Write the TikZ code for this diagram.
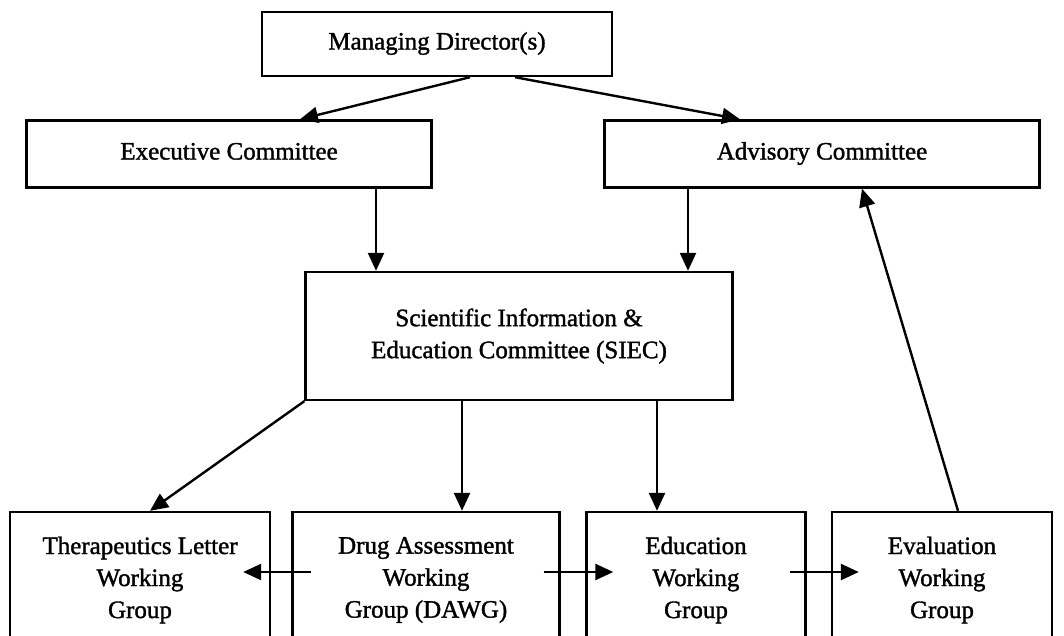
\documentclass[tikz,border=0pt]{standalone}
\usepackage{fontspec}
\setmainfont{Liberation Serif}[FakeBold=1.4]
\usetikzlibrary{arrows.meta,calc}
\begin{document}
\begin{tikzpicture}[x=1pt,y=-1pt,
  box/.style={draw,line width=2.4pt,inner sep=0pt,align=center,font=\fontsize{25}{32}\selectfont},
  oneline/.style={text height=17pt,text depth=6pt},
  arr/.style={line width=2.4pt,-{Triangle[length=18pt,width=16pt]}}]
\useasboundingbox (0,0) rectangle (1064,635);
\clip (0,0) rectangle (1064,635);

% top level
\node[box,oneline,minimum width=350pt,minimum height=64pt] (md) at (437,44) {Managing Director(s)};

% committees
\node[box,oneline,minimum width=405pt,minimum height=67pt] (exec) at (229,154) {Executive Committee};
\node[box,oneline,minimum width=435pt,minimum height=67pt] (adv) at (822,154) {Advisory Committee};

% SIEC
\node[box,minimum width=427pt,minimum height=128pt] (siec) at (519,336)
  {Scientific Information \&\\Education Committee (SIEC)};

% working groups (lower edges run past the frame)
\node[box,minimum width=260pt,minimum height=136pt] (ther) at (140,580)
  {Therapeutics Letter\\Working\\Group};
\node[box,minimum width=267pt,minimum height=136pt] (dawg) at (426,580)
  {Drug Assessment\\Working\\Group (DAWG)};
\node[box,minimum width=219pt,minimum height=136pt] (edu) at (696,580)
  {Education\\Working\\Group};
\node[box,minimum width=220pt,minimum height=136pt] (eval) at (942,580)
  {Evaluation\\Working\\Group};

% connectors
\draw[arr] ([xshift=33pt]md.south) -- ([xshift=71pt]exec.north);
\draw[arr] ([xshift=78pt]md.south) -- ([xshift=-82pt]adv.north);
\draw[arr] (exec.south -| 376,0) -- (siec.north -| 376,0);
\draw[arr] (adv.south -| 688,0) -- (siec.north -| 688,0);
\draw[arr] (siec.south west) -- ([xshift=10pt]ther.north);
\draw[arr] (siec.south -| 462,0) -- (dawg.north -| 462,0);
\draw[arr] (siec.south -| 657,0) -- (edu.north -| 657,0);
\draw[arr] ([xshift=16pt]eval.north) -- ([xshift=40pt]adv.south);

% side links between working groups
\coordinate (dl) at ([xshift=20pt,yshift=8pt]dawg.west);
\coordinate (tr) at ([xshift=-28pt,yshift=8pt]ther.east);
\draw[arr] (dl) -- (tr);
\coordinate (dr) at ([xshift=-17pt,yshift=8pt]dawg.east);
\coordinate (el) at ([xshift=28pt,yshift=8pt]edu.west);
\draw[arr] (dr) -- (el);
\coordinate (er) at ([xshift=-17pt,yshift=8pt]edu.east);
\coordinate (vl) at ([xshift=28pt,yshift=8pt]eval.west);
\draw[arr] (er) -- (vl);
\end{tikzpicture}
\end{document}
